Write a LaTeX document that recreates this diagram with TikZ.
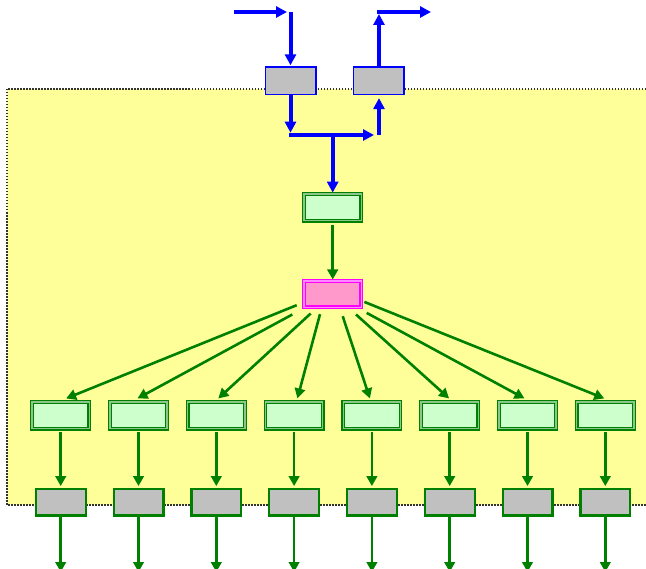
\documentclass[tikz,border=0pt]{standalone}
\usetikzlibrary{arrows.meta}
\definecolor{bl}{HTML}{0000FF}
\definecolor{gr}{HTML}{008000}
\definecolor{lgr}{HTML}{CCFFCC}
\definecolor{gy}{HTML}{C0C0C0}
\definecolor{pkf}{HTML}{FF99CC}
\definecolor{mg}{HTML}{FF00FF}
\definecolor{yl}{HTML}{FFFF99}
\definecolor{dk}{HTML}{333333}
\begin{document}
\begin{tikzpicture}[x=1pt,y=-1pt,
  barr/.style={draw=bl, line width=4pt, -{Triangle[length=11pt,width=11pt]}},
  garr/.style={draw=gr, line width=2.6pt, -{Triangle[length=10pt,width=10.5pt]}},
  bluebox/.style={draw=bl, line width=1.6pt, fill=gy, minimum width=50.3pt, minimum height=27.8pt, inner sep=0pt, outer sep=0pt},
  graybox/.style={draw=gr, line width=2.2pt, fill=gy, minimum width=49.8pt, minimum height=26.8pt, inner sep=0pt, outer sep=0pt},
  dgbox/.style={draw=gr, double=gr!45!white, line width=1.3pt, double distance=1.3pt, fill=lgr, minimum width=57.2pt, minimum height=26.7pt, inner sep=0pt, outer sep=0pt},
  dpbox/.style={draw=mg, double=mg!45!white, line width=1.3pt, double distance=1.3pt, fill=pkf, minimum width=57.2pt, minimum height=26.4pt, inner sep=0pt, outer sep=0pt},
  region/.style={draw=dk, line width=1.6pt, dash pattern=on 1.5pt off 1.5pt}
]
\useasboundingbox (0,0) rectangle (646,569);
% background region
\fill[yl] (7,89) rectangle (646,505);
\draw[region] (646,89) -- (7,89) -- (7,505) -- (646,505);

% top boxes
\node[bluebox] (b1) at (290.8,80.7) {};
\node[bluebox] (b2) at (378.7,80.7) {};
\node[dgbox] (gA) at (332.7,207.5) {};
\node[dpbox] (pk) at (332.7,294.2) {};

% blue connectors
\coordinate (in0) at (234,12);
\coordinate (in1) at (287,12);
\coordinate (in2) at (290.5,12);
\coordinate (out1) at (379,14);
\coordinate (out2) at (377,12);
\coordinate (out3) at (431,12);
\coordinate (j1) at (289,135);
\coordinate (j2) at (332.7,135);
\coordinate (j3) at (379,135);
\coordinate (j1a) at (290.5,135);
\draw[barr] (in0) -- (in1);
\draw[barr, shorten >=1.5pt] (in2) -- (in2 |- b1.north);
\draw[barr] (b2.north -| out1) -- (out1);
\draw[barr] (out2) -- (out3);
\draw[barr, shorten >=2.3pt] (b1.south -| j1a) -- (j1a);
\draw[barr, shorten >=5pt] (j1) -- (j3);
\draw[barr, shorten >=1.5pt] (j2) -- (gA.north);
\draw[barr, shorten >=3.5pt] (j3) -- (b2.south -| j3);

% green connector to pink
\draw[garr, shorten <=4pt, shorten >=1.5pt] (gA.south) -- (pk.north);

% rows
\foreach \i [evaluate=\i as \xx using 60.7+77.8*(\i-1)] in {1,...,8} {
  \node[dgbox] (g\i) at (\xx,415.3) {};
  \node[graybox] (q\i) at (\xx,502.2) {};
  \coordinate (e\i) at (\xx,572);
  \draw[garr, shorten <=3pt, shorten >=2.7pt] (g\i.south) -- (q\i.north);
  \draw[garr] (q\i.south) -- (e\i);
}

% fan-out
\draw[garr] ([shift={(-36,11)}]pk.center) -- ([shift={(5.4,-3.5)}]g1.north);
\draw[garr] ([shift={(-40.4,20.3)}]pk.center) -- ([shift={(-1,-3.5)}]g2.north);
\draw[garr] ([shift={(-22,19.3)}]pk.center) -- ([shift={(2,-3.5)}]g3.north);
\draw[garr] ([shift={(-12.7,20)}]pk.center) -- ([shift={(3.3,-3.5)}]g4.north);
\draw[garr] ([shift={(10,22)}]pk.center) -- ([shift={(-2,-3.5)}]g5.north);
\draw[garr] ([shift={(23.3,20.3)}]pk.center) -- ([shift={(-0.6,-3.5)}]g6.north);
\draw[garr] ([shift={(34,18.7)}]pk.center) -- ([shift={(-3,-3.5)}]g7.north);
\draw[garr] ([shift={(31.6,7.7)}]pk.center) -- ([shift={(-1,-3.5)}]g8.north);
\end{tikzpicture}
\end{document}
